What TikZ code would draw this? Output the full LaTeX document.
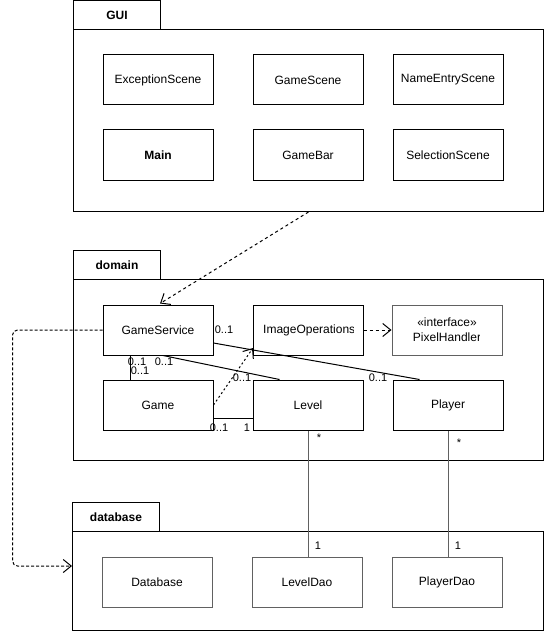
\documentclass[tikz,border=0pt]{standalone}
\usepackage{fontspec}
\setmainfont{Liberation Sans}
\usetikzlibrary{arrows.meta,calc}
\begin{document}
\begin{tikzpicture}[x=1pt,y=-1pt,
  every node/.style={font=\fontsize{12}{14}\selectfont},
  cls/.style={draw, line width=1pt, minimum width=110pt, minimum height=50pt, inner sep=0pt, fill=white},
  grcls/.style={cls, draw=black!62},
  pkgtab/.style={draw, line width=1pt, minimum width=87pt, minimum height=29pt, inner sep=0pt,
    anchor=north west, font=\fontsize{12}{14}\selectfont\bfseries},
  pkgbody/.style={draw, line width=1pt, minimum width=470pt, inner sep=0pt, anchor=north west},
  assoc/.style={line width=1pt},
  grassoc/.style={line width=1pt, draw=black!62},
  dep/.style={line width=1pt, dash pattern=on 3pt off 3pt, -{Straight Barb[length=8pt,width=13pt,line width=1pt]}},
  use/.style={line width=1pt, dash pattern=on 2pt off 2.5pt, -{Straight Barb[length=8pt,width=13pt,line width=1pt]}},
  mult/.style={font=\fontsize{11}{13}\selectfont, inner sep=0pt}
]
\useasboundingbox (0,0) rectangle (544,631);

% --- packages ---
\node[pkgtab] (guiTab) at (73,0) {GUI};
\node[pkgbody, minimum height=182pt] (guiBody) at (73,29) {};
\node[pkgtab] (domainTab) at (73,250) {domain};
\node[pkgbody, minimum height=181pt] (domainBody) at (73,279) {};
\node[pkgtab] (dbTab) at (72,502) {database};
\node[pkgbody, minimum width=471pt, minimum height=99pt] (dbBody) at (72,531) {};

% --- GUI classes ---
\node[cls] (ExceptionScene) at (158,80) {ExceptionScene};
\node[cls] (GameScene) at (308,80) {GameScene};
\node[cls] (NameEntryScene) at (448,80) {NameEntryScene};
\node[cls, font=\fontsize{12}{14}\selectfont\bfseries] (Main) at (158,155) {Main};
\node[cls] (GameBar) at (308,155) {GameBar};
\node[cls] (SelectionScene) at (448,155) {SelectionScene};

% --- domain classes ---
\node[cls] (GameService) at (158,330) {GameService};
\node[cls] (ImageOperations) at (308,330) {};
\begin{scope}
  \clip (253,306) rectangle (353,354);
  \node[anchor=west, inner sep=0pt] (ioText) at (263,330) {ImageOperations};
\end{scope}
\node[grcls] (PixelHandler) at (447,330) {};
\begin{scope}
  \clip (393,306) rectangle (479,354);
  \node[align=center, inner sep=0pt, font=\fontsize{12}{15}\selectfont] (phText) at (447,330) {«interface»\\PixelHandler};
\end{scope}
\node[cls] (Game) at (158,405) {Game};
\node[cls] (Level) at (308,405) {Level};
\node[cls] (Player) at (448,405) {Player};

% --- database classes ---
\node[grcls] (Database) at (157,582) {Database};
\node[grcls] (LevelDao) at (307,582) {LevelDao};
\node[grcls] (PlayerDao) at (447,582) {PlayerDao};

% --- dependencies ---
\draw[dep] (guiBody.south) -- ($(GameService.north)+(2,-1)$);
\coordinate (dbIn) at (72,566);
\draw[dep, dash pattern=on 3pt off 2pt, rounded corners=5pt] (GameService.west) -- ++(-90,0) |- (dbIn);
\draw[dep] (ImageOperations.east) -- (PixelHandler.west);
\coordinate (ioIn) at (253,348);
\draw[use] (Game.east) -- (ioIn);

% --- associations ---
\draw[assoc] ($(GameService.south west)+(28,0)$) -- ($(Game.north west)+(28,0)$);
\draw[assoc] ($(GameService.south)+(5,0)$) -- ($(Level.north west)+(27,0)$);
\draw[assoc] ($(GameService.east)+(0,13)$) -- ($(Player.north west)+(27,0)$);
\draw[assoc] ($(Game.east)+(0,13)$) -- ($(Level.west)+(0,13)$);
\draw[grassoc] (Level.south) -- (Level.south |- LevelDao.north);
\draw[grassoc] (Player.south) -- (Player.south |- PlayerDao.north);

% --- multiplicities ---
\node[mult] (m1) at (224,330) {0..1};
\node[mult] (m2) at (137,362) {0..1};
\node[mult] (m3) at (140,371) {0..1};
\node[mult] (m4) at (164,362) {0..1};
\node[mult] (m5) at (242,378) {0..1};
\node[mult] (m6) at (378,378) {0..1};
\node[mult] (m7) at (219,428) {0..1};
\node[mult] (m8) at (247,428) {1};
\node[mult] (m9) at (319,438) {*};
\node[mult] (m10) at (459,443) {*};
\node[mult] (m11) at (318,546) {1};
\node[mult] (m12) at (458,546) {1};
\end{tikzpicture}
\end{document}
